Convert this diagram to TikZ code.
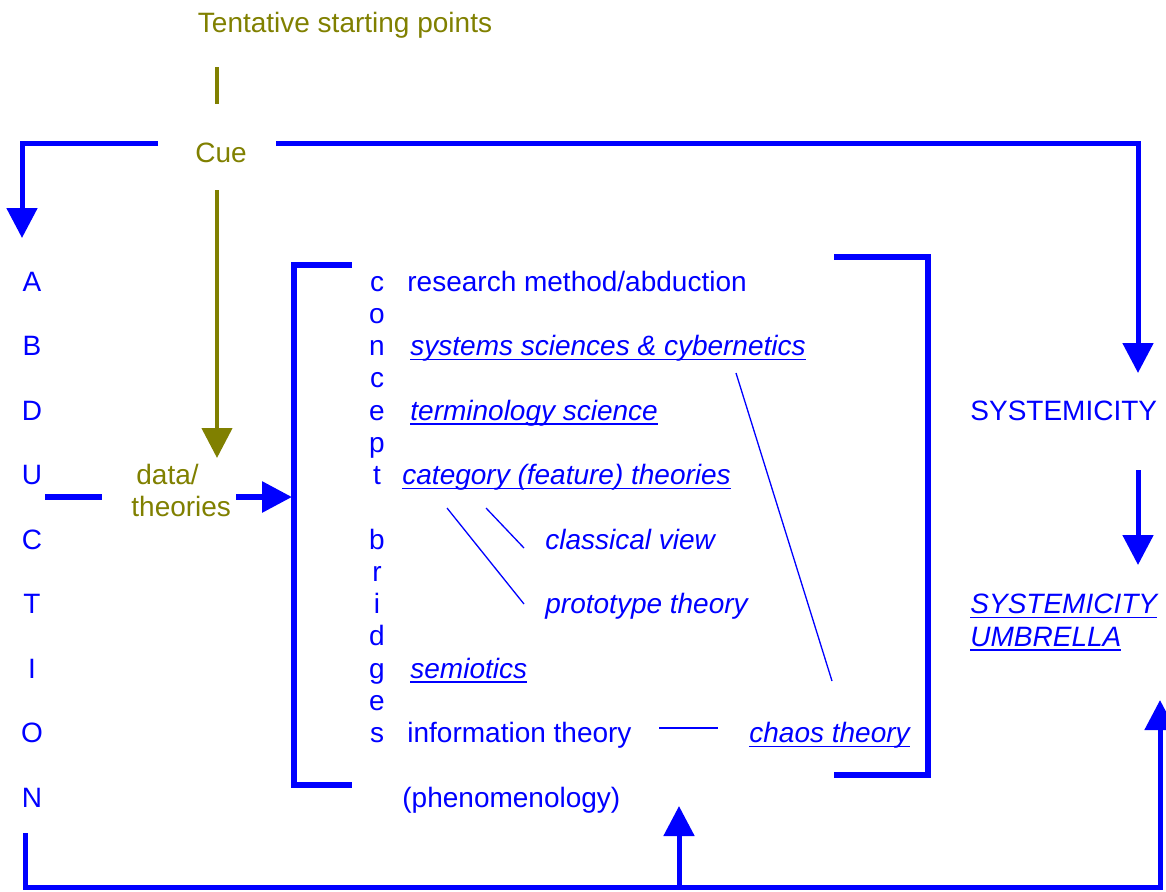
\documentclass[tikz,border=0pt]{standalone}
\usepackage{fontspec}
\setmainfont{Liberation Sans}
\usetikzlibrary{arrows.meta}
\definecolor{olv}{RGB}{128,128,0}
\definecolor{blu}{RGB}{0,0,255}
\newcommand\myul[1]{\setbox0\hbox{#1}\leavevmode\rlap{\vrule height -1.5pt depth 2.4pt width \wd0}\box0}
\begin{document}
\begin{tikzpicture}[x=0.5pt,y=-0.5pt,
  txt/.style={inner sep=0pt, font=\fontsize{14}{17}\selectfont, text=blu},
  otxt/.style={txt, text=olv},
  itl/.style={txt, font=\fontsize{14}{17}\selectfont\itshape},
  bline/.style={draw=blu, line width=2.5pt, line join=miter},
  brk/.style={draw=blu, line width=3pt, line join=miter},
  oline/.style={draw=olv, line width=2.2pt},
  tline/.style={draw=blu, line width=0.65pt},
  arr/.style={-{Triangle[width=15pt,length=15pt]}}
]
\useasboundingbox (0,0) rectangle (1166,891);

% top texts
\node[otxt, anchor=base] (tent) at (345,32) {Tentative starting points};
\node[otxt, anchor=base] (cue) at (221,162) {Cue};
\coordinate (t1) at (217,67);
\coordinate (t2) at (217,104);
\draw[oline] (t1) -- (t2);

% left column ABDUCTION
\foreach \l/\i in {A/0,B/1,D/2,U/3,C/4,T/5,I/6,O/7,N/8}{
  \node[txt, anchor=base] (ab\i) at (32,291+64.5*\i) {\l};
}

% Cue connectors
\coordinate (cl) at (158,143);
\coordinate (cr) at (276,143);
\coordinate (cd) at (217,190);
\draw[bline, arr] (cl) -- (22,143) -- (22,238);
\draw[bline, arr] (cr) -- (1138,143) -- (1138,373);

% data / theories
\node[otxt, anchor=base west] (data) at (136,484) {data/};
\node[otxt, anchor=base west] (theo) at (131,516) {theories};
\draw[oline, arr] (cd) -- (217,458);
\coordinate (u1) at (45,497);
\coordinate (u2) at (102,497);
\coordinate (d1) at (236,497);
\coordinate (d2) at (292,497);
\draw[brk] (u1) -- (u2);
\draw[brk, -{Triangle[width=15pt,length=15pt]}] (d1) -- (d2);

% brackets
\draw[brk] (352,265) -- (294,265) -- (294,785) -- (352,785);
\draw[brk] (834,257) -- (928,257) -- (928,775) -- (834,775);

% concept bridges
\foreach \l/\k in {c/0,o/1,n/2,c/3,e/4,p/5,t/6,b/8,r/9,i/10,d/11,g/12,e/13,s/14}{
  \node[txt, anchor=base] (cb\k) at (377,291+32.25*\k) {\l};
}

% content texts
\node[txt, anchor=base west] (res) at (407,291) {research method/abduction};
\node[itl, anchor=base west] (sys) at (410,355.5) {\myul{systems sciences \& cybernetics}};
\node[itl, anchor=base west] (term) at (410,420) {\myul{terminology science}};
\node[itl, anchor=base west] (cat) at (402,484.5) {\myul{category (feature) theories}};
\node[itl, anchor=base west] (clas) at (545,549) {classical view};
\node[itl, anchor=base west] (proto) at (545,613.5) {prototype theory};
\node[itl, anchor=base west] (sem) at (410,678) {\myul{semiotics}};
\node[txt, anchor=base west] (info) at (407,742.5) {information theory};
\node[itl, anchor=base west] (chaos) at (749,742.5) {\myul{chaos theory}};
\node[txt, anchor=base west] (phen) at (402,807) {(phenomenology)};

% thin connectors
\coordinate (ca1) at (447,508);
\coordinate (pr1) at (524,604);
\coordinate (ca2) at (486,508);
\coordinate (cl1) at (524,548);
\coordinate (sy1) at (736,373);
\coordinate (ch1) at (832,681);
\coordinate (in1) at (659,728);
\coordinate (ch2) at (718,728);
\draw[tline] (ca1) -- (pr1);
\draw[tline] (ca2) -- (cl1);
\draw[tline] (sy1) -- (ch1);
\draw[tline] (in1) -- (ch2);

% right side
\node[txt, anchor=base west] (syst) at (970,420) {SYSTEMICITY};
\node[itl, anchor=base west] (umb1) at (970,613.5) {\myul{SYSTEMICITY}};
\node[itl, anchor=base west] (umb2) at (970,646) {\myul{UMBRELLA}};
\coordinate (s1) at (1138,470);
\coordinate (s2) at (1138,565);
\draw[bline, arr] (s1) -- (s2);

% bottom loop
\coordinate (b1) at (25,833);
\draw[bline, arr] (b1) -- (25,887) -- (1160,887) -- (1160,700);
\coordinate (p1) at (679,887);
\coordinate (p2) at (679,806);
\draw[bline, arr] (p1) -- (p2);
\end{tikzpicture}
\end{document}
